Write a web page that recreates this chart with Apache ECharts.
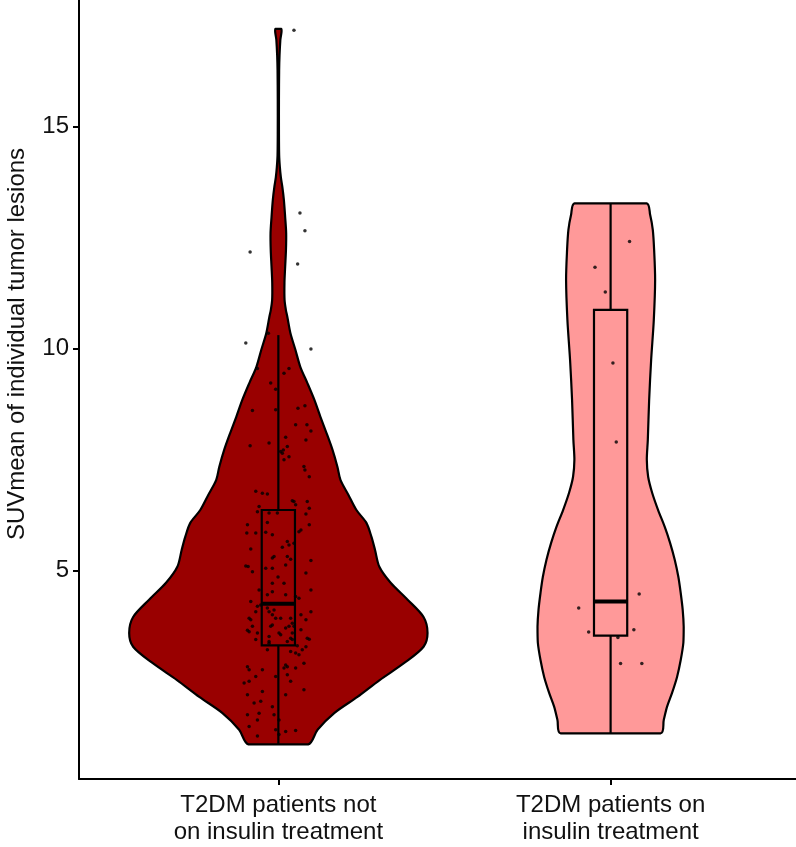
<!DOCTYPE html>
<html><head><meta charset="utf-8">
<script src="https://cdn.jsdelivr.net/npm/echarts@6/dist/echarts.min.js"></script>
<style>html,body{margin:0;padding:0;background:#fff}#c{width:796px;height:847px}</style>
</head><body><div id="c"></div>
<script>
const categories = ['T2DM patients not\non insulin treatment', 'T2DM patients on\ninsulin treatment'];
const categoryPositions = [1, 2];
const yTicks = [5, 10, 15];
const yTitle = 'SUVmean of individual tumor lesions';

// violin outlines: SUV value and half-width (in category units)
const violin1Values = [17.20,16.95,16.61,16.27,15.60,14.92,14.36,14.09,13.86,13.64,13.35,12.96,12.60,12.22,11.84,11.48,11.09,10.87,10.71,10.35,9.97,9.58,9.22,8.84,8.46,8.10,7.72,7.33,7.04,6.70,6.36,6.07,5.76,5.46,5.08,4.72,4.34,3.95,3.59,3.28,2.92,2.53,2.15,1.79,1.41,1.08];
const violin1Half = [0.009,0.006,0.0036,0.0024,0.0018,0.0018,0.0024,0.0045,0.0075,0.012,0.0166,0.0205,0.0235,0.0229,0.0205,0.0184,0.0187,0.0226,0.0271,0.0362,0.0513,0.0663,0.0874,0.1085,0.1266,0.1447,0.1628,0.1779,0.1869,0.211,0.235,0.265,0.280,0.291,0.304,0.338,0.389,0.437,0.449,0.437,0.380,0.305,0.238,0.169,0.118,0.090];
const violin2Values = [13.27,13.01,12.67,12.22,11.54,10.64,9.74,8.84,7.94,7.49,7.11,6.75,6.36,5.98,5.62,5.24,4.85,4.49,4.11,3.73,3.37,2.98,2.60,2.24,1.93,1.63,1.33];
const violin2Half = [0.1085,0.119,0.127,0.131,0.134,0.130,0.122,0.116,0.112,0.109,0.113,0.125,0.143,0.163,0.179,0.193,0.204,0.211,0.217,0.220,0.219,0.211,0.200,0.185,0.170,0.160,0.151];

// box stats: [lower whisker, Q1, median, Q3, upper whisker]
const box1Stats = [1.08, 3.31, 4.25, 6.36, 10.30];
const box2Stats = [1.33, 3.53, 4.30, 10.87, 13.27];

// jittered points: values and horizontal jitter offsets
const points1Values = [17.17,13.05,12.65,12.17,11.90,10.12,9.99,10.34,9.55,9.44,9.55,9.22,9.08,8.60,8.62,8.65,8.71,8.28,8.28,8.14,8.00,7.94,7.81,7.87,7.79,7.68,7.64,7.71,7.56,7.49,7.34,7.26,7.11,6.78,6.74,6.72,6.57,6.55,6.55,6.44,6.48,6.40,6.32,6.29,6.29,6.27,6.03,6.08,6.03,5.84,5.84,5.86,5.91,5.87,5.48,5.52,5.57,5.61,5.28,5.31,5.25,5.22,5.10,5.09,5.12,5.05,4.97,4.85,4.94,4.71,4.56,4.52,4.56,4.30,4.37,4.19,4.22,4.15,4.11,4.07,4.07,4.00,3.92,3.89,3.92,3.89,3.81,3.74,3.65,3.62,3.74,3.70,3.74,3.66,3.59,3.55,3.47,3.44,3.47,3.45,3.44,3.40,3.40,3.30,3.21,3.17,3.14,3.10,3.21,3.28,2.87,2.80,2.83,2.83,2.76,2.76,2.80,2.91,2.61,2.65,2.61,2.46,2.50,2.50,2.27,2.31,2.20,2.20,2.05,2.01,1.93,1.75,1.78,1.75,1.63,1.63,1.48,1.37,1.39,1.41,1.27,1.30,5.80,5.65,5.31,5.05,4.71,4.45,4.45,4.41,4.07,4.00,3.92,3.92,3.77,3.74,3.59,3.51,3.59,3.36];
const points1Offsets = [0.047,0.065,0.080,-0.085,0.058,-0.098,0.098,-0.030,-0.063,0.017,0.032,-0.023,-0.008,-0.078,-0.008,0.059,0.080,0.052,0.086,0.098,0.022,0.083,-0.085,-0.028,0.027,0.007,0.012,0.015,0.032,0.017,0.077,0.080,0.093,-0.068,-0.048,-0.033,0.042,0.047,0.087,-0.058,0.052,0.093,-0.063,-0.028,-0.003,0.083,-0.093,-0.033,0.093,-0.095,-0.068,-0.038,0.068,0.062,-0.083,0.012,0.032,0.047,-0.018,0.027,0.037,0.098,-0.098,-0.091,0.022,-0.038,-0.078,-0.001,0.083,0.017,-0.058,-0.018,0.098,-0.083,0.062,-0.063,-0.053,-0.033,-0.013,-0.068,0.098,0.068,-0.088,-0.083,-0.008,0.083,0.042,-0.078,-0.093,-0.088,-0.023,0.022,0.047,0.068,-0.063,0.007,0.037,0.042,0.087,0.093,-0.068,-0.028,0.027,0.057,-0.033,0.037,0.052,0.062,0.072,0.083,0.022,0.017,0.027,-0.093,-0.088,-0.048,0.052,0.077,-0.008,0.027,-0.068,-0.103,-0.088,0.037,-0.048,0.077,-0.093,0.022,-0.053,-0.073,-0.018,-0.093,-0.058,-0.013,-0.063,0.002,-0.088,0.022,0.052,-0.008,-0.063,0.002,-0.018,0.027,-0.013,-0.018,-0.018,-0.033,0.022,0.052,-0.028,-0.018,0.007,0.037,-0.018,0.032,0.002,-0.028,0.042,-0.028];
const points2Values = [12.41,11.83,11.27,9.67,7.89,4.47,4.15,3.61,3.66,3.49,2.90,2.90];
const points2Offsets = [0.057,-0.047,-0.016,0.007,0.017,0.086,-0.096,-0.066,0.070,0.022,0.030,0.094];

const colors = ['#990000', '#FF9999'];
const FONT = '"Liberation Sans", Arial, sans-serif';
const BOX_HALF = 0.05;

function violinRender(values, halves, pos, color) {
  return function (params, api) {
    const right = [], left = [];
    for (let i = 0; i < values.length; i++) {
      right.push(api.coord([pos + halves[i], values[i]]));
      left.push(api.coord([pos - halves[i], values[i]]));
    }
    return {
      type: 'polygon',
      shape: {
        points: right.concat(left.reverse()),
        smooth: 0.3,
        smoothConstraint: [[Infinity, Infinity], [-Infinity, -Infinity]]
      },
      style: { fill: color, stroke: '#000', lineWidth: 2.2, lineJoin: 'round' }
    };
  };
}

function boxRender(stats, pos, color) {
  return function (params, api) {
    const [lo, q1, med, q3, hi] = stats;
    const c = api.coord([pos, med])[0];
    const yLo = api.coord([pos, lo])[1], yQ1 = api.coord([pos, q1])[1];
    const yMed = api.coord([pos, med])[1], yQ3 = api.coord([pos, q3])[1], yHi = api.coord([pos, hi])[1];
    const xl = api.coord([pos - BOX_HALF, med])[0], xr = api.coord([pos + BOX_HALF, med])[0];
    const ls = { stroke: '#000', lineWidth: 2.2 };
    return {
      type: 'group',
      children: [
        { type: 'line', shape: { x1: c, y1: yHi, x2: c, y2: yQ3 }, style: ls },
        { type: 'line', shape: { x1: c, y1: yQ1, x2: c, y2: yLo }, style: ls },
        { type: 'rect', shape: { x: xl, y: yQ3, width: xr - xl, height: yQ1 - yQ3 }, style: { fill: color, stroke: '#000', lineWidth: 2.2 } },
        { type: 'line', shape: { x1: xl, y1: yMed, x2: xr, y2: yMed }, style: { stroke: '#000', lineWidth: 4 } }
      ]
    };
  };
}

const chart = echarts.init(document.getElementById('c'), null, { renderer: 'canvas' });
chart.setOption({
  backgroundColor: '#fff',
  animation: false,
  grid: { left: 79, right: 0, top: 0, bottom: 68 },
  xAxis: {
    type: 'value', min: 0.4, max: 2.558,
    splitLine: { show: false },
    axisLine: { show: true, lineStyle: { color: '#000', width: 2 } },
    axisTick: { show: true, customValues: categoryPositions, length: 6, lineStyle: { color: '#000', width: 2 } },
    axisLabel: {
      customValues: categoryPositions, margin: 13,
      formatter: v => categories[Math.round(v) - 1],
      fontFamily: FONT, fontSize: 24, color: '#111', lineHeight: 27, align: 'center'
    }
  },
  yAxis: {
    type: 'value', min: 0.3, max: 17.85,
    splitLine: { show: false },
    axisLine: { show: true, lineStyle: { color: '#000', width: 2 } },
    axisTick: { show: true, customValues: yTicks, length: 6, lineStyle: { color: '#000', width: 2 } },
    axisLabel: { customValues: yTicks, margin: 10, fontFamily: FONT, fontSize: 24, color: '#111' }
  },
  graphic: [{
    type: 'text', x: 17, y: 344, rotation: Math.PI / 2,
    style: { text: yTitle, fontFamily: FONT, fontSize: 24, fill: '#111', align: 'center', verticalAlign: 'middle' }
  }],
  series: [
    { type: 'custom', renderItem: violinRender(violin1Values, violin1Half, categoryPositions[0], colors[0]), data: [[categoryPositions[0], box1Stats[2]]], z: 1, clip: false },
    { type: 'custom', renderItem: violinRender(violin2Values, violin2Half, categoryPositions[1], colors[1]), data: [[categoryPositions[1], box2Stats[2]]], z: 1, clip: false },
    { type: 'custom', renderItem: boxRender(box1Stats, categoryPositions[0], colors[0]), data: [[categoryPositions[0], box1Stats[2]]], z: 2, clip: false },
    { type: 'custom', renderItem: boxRender(box2Stats, categoryPositions[1], colors[1]), data: [[categoryPositions[1], box2Stats[2]]], z: 2, clip: false },
    { type: 'scatter', symbolSize: 3.5, itemStyle: { color: '#000' }, z: 3,
      data: points1Values.map((v, i) => [categoryPositions[0] + points1Offsets[i], v]) },
    { type: 'scatter', symbolSize: 3.5, itemStyle: { color: '#000' }, z: 3,
      data: points2Values.map((v, i) => [categoryPositions[1] + points2Offsets[i], v]) }
  ]
});
</script>
</body></html>
